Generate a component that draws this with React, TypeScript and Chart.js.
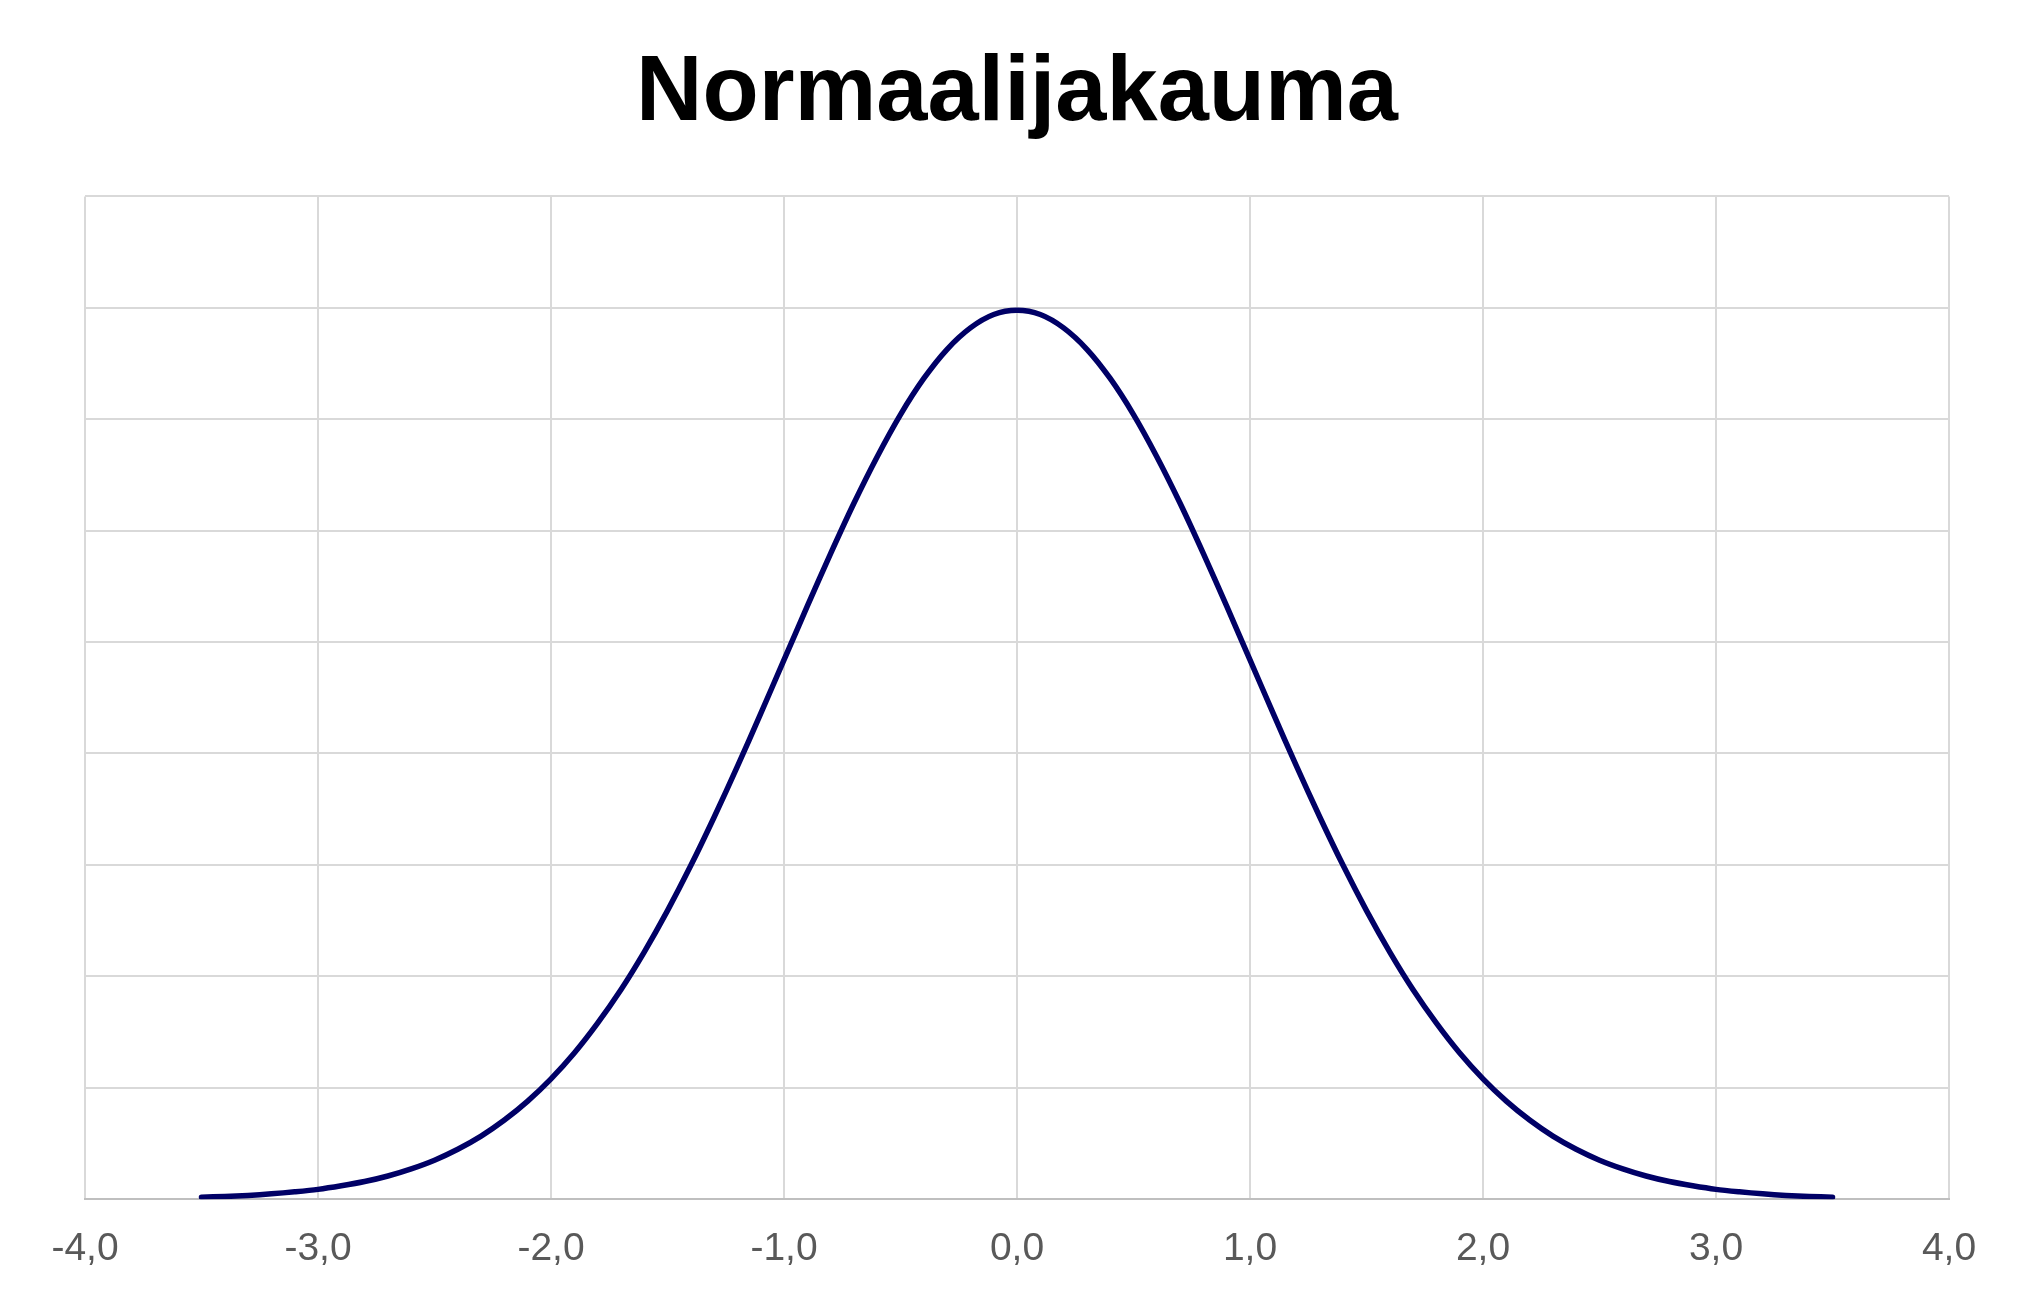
import React, { useEffect, useRef } from "react";
import { Chart, registerables } from "chart.js";

Chart.register(...registerables);

const chartTitle = "Normaalijakauma";

const xValues = [
  -3.5, -3.4, -3.3, -3.2, -3.1, -3.0, -2.9, -2.8, -2.7, -2.6, -2.5, -2.4, -2.3, -2.2, -2.1,
  -2.0, -1.9, -1.8, -1.7, -1.6, -1.5, -1.4, -1.3, -1.2, -1.1, -1.0, -0.9, -0.8, -0.7, -0.6,
  -0.5, -0.4, -0.3, -0.2, -0.1, 0.0, 0.1, 0.2, 0.3, 0.4, 0.5, 0.6, 0.7, 0.8, 0.9,
  1.0, 1.1, 1.2, 1.3, 1.4, 1.5, 1.6, 1.7, 1.8, 1.9, 2.0, 2.1, 2.2, 2.3, 2.4,
  2.5, 2.6, 2.7, 2.8, 2.9, 3.0, 3.1, 3.2, 3.3, 3.4, 3.5,
];

const yValues = [
  0.0009, 0.0012, 0.0017, 0.0024, 0.0033, 0.0044, 0.006, 0.0079, 0.0104, 0.0136, 0.0175, 0.0224, 0.0283, 0.0355, 0.044,
  0.054, 0.0656, 0.079, 0.094, 0.1109, 0.1295, 0.1497, 0.1714, 0.1942, 0.2179, 0.242, 0.2661, 0.2897, 0.3123, 0.3332,
  0.3521, 0.3683, 0.3814, 0.391, 0.397, 0.3989, 0.397, 0.391, 0.3814, 0.3683, 0.3521, 0.3332, 0.3123, 0.2897, 0.2661,
  0.242, 0.2179, 0.1942, 0.1714, 0.1497, 0.1295, 0.1109, 0.094, 0.079, 0.0656, 0.054, 0.044, 0.0355, 0.0283, 0.0224,
  0.0175, 0.0136, 0.0104, 0.0079, 0.006, 0.0044, 0.0033, 0.0024, 0.0017, 0.0012, 0.0009,
];

const xTickValues = [-4, -3, -2, -1, 0, 1, 2, 3, 4];
const xTickLabels = ["-4,0", "-3,0", "-2,0", "-1,0", "0,0", "1,0", "2,0", "3,0", "4,0"];

const yMin = 0;
const yMax = 0.45;
const yStep = 0.05;

export default function App() {
  const canvasRef = useRef<HTMLCanvasElement | null>(null);

  useEffect(() => {
    const canvas = canvasRef.current;
    if (!canvas) return;
    const points = xValues.map((x, i) => ({ x, y: yValues[i] }));
    const chart = new Chart(canvas, {
      type: "line",
      data: {
        datasets: [
          {
            data: points,
            borderColor: "#000066",
            borderWidth: 5.5,
            pointRadius: 0,
            pointHoverRadius: 0,
            fill: false,
            tension: 0.3,
            borderCapStyle: "round",
            borderJoinStyle: "round",
          },
        ],
      },
      options: {
        responsive: false,
        animation: false,
        devicePixelRatio: 1,
        layout: { padding: { left: 85, right: 80, top: 0, bottom: 0 } },
        plugins: {
          legend: { display: false },
          tooltip: { enabled: false },
          title: {
            display: true,
            text: chartTitle,
            color: "#000000",
            font: { family: "'Liberation Sans', Arial, sans-serif", size: 92, weight: "bold", lineHeight: 1.2 },
            padding: { top: 39, bottom: 47 },
          },
        },
        scales: {
          x: {
            type: "linear",
            min: -4,
            max: 4,
            afterBuildTicks: (axis: any) => {
              axis.ticks = xTickValues.map((v) => ({ value: v }));
            },
            ticks: {
              color: "#595959",
              font: { family: "'Liberation Sans', Arial, sans-serif", size: 39, lineHeight: 0.97 },
              padding: 31,
              maxRotation: 0,
              autoSkip: false,
              callback: (value: any) => {
                const idx = xTickValues.indexOf(Number(value));
                return idx >= 0 ? xTickLabels[idx] : "";
              },
            },
            grid: { color: "#d9d9d9", lineWidth: 2, drawTicks: false },
            border: { display: true, color: "#bfbfbf", width: 2 },
          },
          y: {
            type: "linear",
            min: yMin,
            max: yMax,
            ticks: { display: false, stepSize: yStep },
            grid: { color: "#d9d9d9", lineWidth: 2, drawTicks: false },
            border: { display: false },
          },
        },
      },
    });
    return () => chart.destroy();
  }, []);

  return (
    <div style={{ position: "fixed", left: 0, top: 0, width: 2029, height: 1299, background: "#ffffff" }}>
      <canvas ref={canvasRef} width={2029} height={1299} style={{ display: "block" }} />
    </div>
  );
}
